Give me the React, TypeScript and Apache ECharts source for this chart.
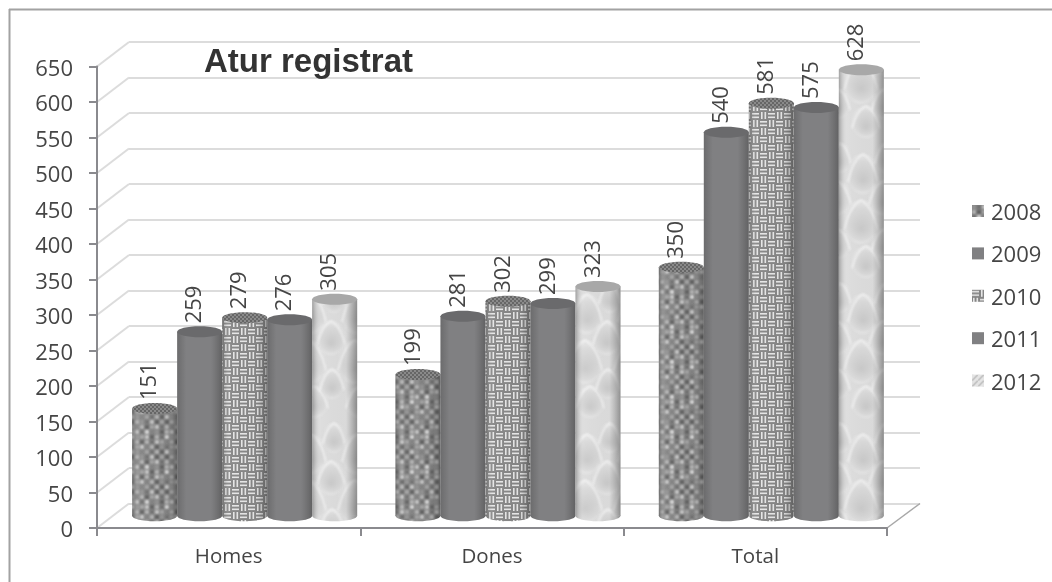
import React, { useEffect, useRef } from "react";
import * as echarts from "echarts";

const categories = ["Homes", "Dones", "Total"];
const years = ["2008", "2009", "2010", "2011", "2012"];
const values2008 = [151, 199, 350];
const values2009 = [259, 281, 540];
const values2010 = [279, 302, 581];
const values2011 = [276, 299, 575];
const values2012 = [305, 323, 628];
const seriesValues = [values2008, values2009, values2010, values2011, values2012];
const yTicks = [0, 50, 100, 150, 200, 250, 300, 350, 400, 450, 500, 550, 600, 650];

const FONT = '"Open Sans", sans-serif';
const TEXT = "#454545";
const AXIS = "#8a8a8e";
const WALL = "#dcdcdc";
const DX = 32, DY = 24.5; // depth of the chart box
const BAR_W = 45, RY = 5.5;

function tile(w: number, h: number, draw: (c: CanvasRenderingContext2D) => void) {
  const cv = document.createElement("canvas");
  cv.width = w;
  cv.height = h;
  draw(cv.getContext("2d")!);
  return cv;
}

// hand-drawn weave: each character is a cell shade, 0 darkest .. 9 lightest
const mottled = [
  "4271516",
  "6157263",
  "2834167",
  "5716284",
  "1627536",
  "7361425",
  "3526174",
];

function mottledTile() {
  const S = 5, N = 7, T = S * N;
  return tile(T, T, (c) => {
    c.fillStyle = "#868686";
    c.fillRect(0, 0, T, T);
    c.filter = "blur(0.8px)";
    for (let oy = -1; oy <= 1; oy++) {
      for (let ox = -1; ox <= 1; ox++) {
        mottled.forEach((row, y) => {
          row.split("").forEach((ch, x) => {
            const v = 78 + Number(ch) * 17;
            c.fillStyle = `rgb(${v},${v},${v})`;
            c.fillRect(x * S + ox * T, y * S + oy * T, S - 1, S - 1);
          });
        });
      }
    }
    c.filter = "none";
  });
}

function basketTile() {
  const B = 8, N = 4, T = B * N;
  return tile(T, T, (c) => {
    c.fillStyle = "#858585";
    c.fillRect(0, 0, T, T);
    c.filter = "blur(0.5px)";
    c.fillStyle = "#e6e6e6";
    for (let oy = -1; oy <= 1; oy++) {
      for (let ox = -1; ox <= 1; ox++) {
        for (let y = 0; y < N; y++) {
          for (let x = 0; x < N; x++) {
            const px = x * B + ox * T, py = y * B + oy * T;
            if ((x + y) % 2 === 0) {
              c.fillRect(px, py + 1, B - 1, 1.6);
              c.fillRect(px, py + 4.5, B - 1, 1.6);
            } else {
              c.fillRect(px + 1, py, 1.6, B - 1);
              c.fillRect(px + 4.5, py, 1.6, B - 1);
            }
          }
        }
      }
    }
    c.filter = "none";
  });
}

// [x, y, rx, ry] of the soft shell shapes of the 2012 texture
const shells = [
  [12, 18, 11, 15], [35, 34, 15, 20], [9, 58, 14, 17], [33, 82, 17, 22],
  [10, 104, 12, 15], [38, 122, 14, 16],
];

function shellTile() {
  const W = 46, H = 140;
  return tile(W, H, (c) => {
    c.fillStyle = "#dcdcdc";
    c.fillRect(0, 0, W, H);
    c.filter = "blur(1.2px)";
    for (let oy = -1; oy <= 1; oy++) {
      for (let ox = -1; ox <= 1; ox++) {
        shells.forEach(([sx, sy, rx, ry]) => {
          const x = sx + ox * W, y = sy + oy * H;
          const g = c.createRadialGradient(x, y + ry * 0.3, 1, x, y, ry);
          g.addColorStop(0, "#cacaca");
          g.addColorStop(0.7, "#dadada");
          g.addColorStop(1, "#e8e8e8");
          c.fillStyle = g;
          c.beginPath();
          c.ellipse(x, y, rx, ry, 0, 0, Math.PI * 2);
          c.fill();
          c.strokeStyle = "#f2f2f2";
          c.lineWidth = 1.6;
          c.beginPath();
          c.moveTo(x - rx, y + ry * 0.4);
          c.quadraticCurveTo(x - rx * 0.7, y - ry * 0.7, x, y - ry);
          c.quadraticCurveTo(x + rx * 0.7, y - ry * 0.7, x + rx, y + ry * 0.4);
          c.stroke();
        });
      }
    }
    c.filter = "none";
  });
}

function stripes() {
  return tile(6, 6, (c) => {
    c.fillStyle = "#e4e4e4";
    c.fillRect(0, 0, 6, 6);
    c.strokeStyle = "#bcbcbc";
    c.lineWidth = 1.5;
    c.beginPath();
    c.moveTo(0, 6);
    c.lineTo(6, 0);
    c.stroke();
  });
}

const pattern = (image: HTMLCanvasElement) => ({ type: "pattern", image, repeat: "repeat" });

export default function App() {
  const ref = useRef<HTMLDivElement>(null);

  useEffect(() => {
    const chart = echarts.init(ref.current!, undefined, { renderer: "svg" });

    const p2008 = pattern(mottledTile());
    const p2010 = pattern(basketTile());
    const p2012 = pattern(shellTile());
    const topWeave = pattern(tile(4, 4, (c) => {
      c.fillStyle = "#666666";
      c.fillRect(0, 0, 4, 4);
      c.fillStyle = "#8a8a8a";
      c.fillRect(0, 0, 2, 2);
      c.fillRect(2, 2, 2, 2);
    }));
    const bodyFill: any[] = [p2008, "#808082", p2010, "#808082", p2012];
    const topFill: any[] = [topWeave, "#6a6a6c", topWeave, "#6a6a6c", "#a8a8a8"];
    const legendFill: any[] = [p2008, "#808082", p2010, "#808082", pattern(stripes())];

    const shade = (solid: boolean) => ({
      type: "linear", x: 0, y: 0, x2: 1, y2: 0,
      colorStops: solid
        ? [
            { offset: 0, color: "rgba(60,60,60,0.3)" },
            { offset: 0.2, color: "rgba(60,60,60,0)" },
            { offset: 0.75, color: "rgba(60,60,60,0)" },
            { offset: 1, color: "rgba(40,40,40,0.35)" },
          ]
        : [
            { offset: 0, color: "rgba(70,70,70,0.4)" },
            { offset: 0.18, color: "rgba(255,255,255,0.05)" },
            { offset: 0.75, color: "rgba(90,90,90,0.02)" },
            { offset: 1, color: "rgba(50,50,50,0.45)" },
          ],
    });

    const yearSeries = years.map((year, i) => ({
      name: year,
      type: "custom",
      xAxisIndex: 0,
      yAxisIndex: 0,
      clip: false,
      z: 5,
      itemStyle: { color: "#808082" },
      data: seriesValues[i].map((v, c) => [c, v]),
      encode: { x: 0, y: 1 },
      renderItem: (_p: any, api: any) => {
        const cat = api.value(0);
        const v = api.value(1);
        const top = api.coord([cat, v]);
        const base = api.coord([cat, 0]);
        const cx = top[0] + (i - 2) * BAR_W + DX / 2;
        const yT = top[1] - DY / 2;
        const yB = base[1] - DY / 2;
        const rx = BAR_W / 2;
        const solid = i === 1 || i === 3;
        const rect = { x: cx - rx, y: yT, width: BAR_W, height: yB - yT };
        const foot = { cx, cy: yB, rx, ry: RY };
        return {
          type: "group",
          children: [
            { type: "ellipse", shape: foot, style: { fill: bodyFill[i] } },
            { type: "ellipse", shape: foot, style: { fill: shade(solid) } },
            { type: "rect", shape: rect, style: { fill: bodyFill[i] } },
            { type: "rect", shape: rect, style: { fill: shade(solid) } },
            { type: "ellipse", shape: { cx, cy: yT, rx, ry: RY }, style: { fill: topFill[i] } },
            {
              type: "text",
              x: cx - 7.5,
              y: yT - RY - 3,
              rotation: Math.PI / 2,
              style: {
                text: String(v),
                fill: TEXT,
                font: `22px ${FONT}`,
                align: "left",
                verticalAlign: "middle",
              },
            },
          ],
        };
      },
    }));

    const option: any = {
      animation: false,
      backgroundColor: "#ffffff",
      title: {
        text: "Atur registrat",
        left: 204,
        top: 44,
        padding: 0,
        textStyle: { fontFamily: '"Liberation Sans", Arial, sans-serif', fontSize: 33, fontWeight: "bold", color: "#333333" },
      },
      legend: {
        orient: "vertical",
        left: 972,
        top: 200,
        padding: 0,
        itemWidth: 12,
        itemHeight: 12,
        itemGap: 20.4,
        icon: "rect",
        textStyle: { fontFamily: FONT, fontSize: 22, color: TEXT, lineHeight: 20, padding: [0, 0, 0, 2] },
        data: years.map((name, i) => ({ name, itemStyle: { color: legendFill[i] } })),
      },
      grid: [
        { left: 97, right: 165, top: 66.5, bottom: 54, containLabel: false },
        { left: 97 + DX, right: 165 - 33, top: 66.5 - DY, bottom: 54 + DY, containLabel: false },
      ],
      xAxis: [
        {
          type: "category",
          gridIndex: 0,
          data: categories,
          z: 3,
          axisLine: { lineStyle: { color: AXIS, width: 2 } },
          axisTick: { show: true, length: 8, lineStyle: { color: AXIS, width: 2 } },
          axisLabel: { fontFamily: FONT, fontSize: 20.5, color: TEXT, margin: 16 },
          splitLine: { show: false },
        },
        { type: "category", gridIndex: 1, data: categories, show: false },
      ],
      yAxis: [
        {
          type: "value",
          gridIndex: 0,
          min: 0,
          max: 650,
          interval: 50,
          z: 3,
          axisLine: { show: true, lineStyle: { color: AXIS, width: 2 } },
          axisTick: { show: true, length: 8, lineStyle: { color: AXIS, width: 2 } },
          axisLabel: { fontFamily: FONT, fontSize: 22, color: TEXT, margin: 24 },
          splitLine: { show: false },
        },
        {
          type: "value",
          gridIndex: 1,
          min: 0,
          max: 650,
          interval: 50,
          axisLine: { show: false },
          axisTick: { show: false },
          axisLabel: { show: false },
          splitLine: { show: true, lineStyle: { color: WALL, width: 2 } },
        },
      ],
      graphic: [
        { type: "line", shape: { x1: 9, y1: 9.5, x2: 1052, y2: 9.5 }, style: { stroke: "#a2a2a2", lineWidth: 2 } },
        { type: "line", shape: { x1: 9.5, y1: 9, x2: 9.5, y2: 582 }, style: { stroke: "#a2a2a2", lineWidth: 2 } },
      ],
      series: [
        {
          type: "custom",
          name: "wall",
          xAxisIndex: 0,
          yAxisIndex: 0,
          clip: false,
          silent: true,
          z: 1,
          data: yTicks,
          encode: { y: 0 },
          renderItem: (_p: any, api: any) => {
            const v = api.value(0);
            const left = api.coord([0, v]);
            const x0 = left[0] - 790 / 6;
            return {
              type: "line",
              shape: { x1: x0, y1: left[1], x2: x0 + DX, y2: left[1] - DY },
              style: { stroke: WALL, lineWidth: 2 },
            };
          },
        },
        {
          type: "custom",
          name: "floor",
          xAxisIndex: 0,
          yAxisIndex: 0,
          clip: false,
          silent: true,
          z: 1,
          data: [[2, 0]],
          encode: { x: 0, y: 1 },
          renderItem: (_p: any, api: any) => {
            const p = api.coord([2, 0]);
            const x0 = p[0] + 790 / 6;
            return {
              type: "line",
              shape: { x1: x0, y1: p[1], x2: x0 + 33, y2: p[1] - DY },
              style: { stroke: "#a8a8a8", lineWidth: 1.5 },
            };
          },
        },
        ...yearSeries,
      ],
    };

    chart.setOption(option);
    return () => chart.dispose();
  }, []);

  return (
    <div
      ref={ref}
      style={{ position: "fixed", left: 0, top: 0, width: 1052, height: 582, background: "#fff", filter: "blur(0.5px)" }}
    />
  );
}
